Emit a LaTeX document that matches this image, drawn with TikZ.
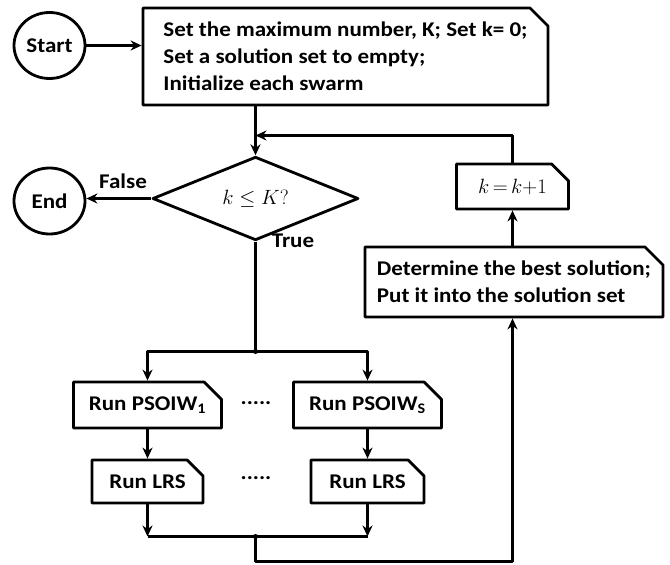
\documentclass[tikz,border=0pt]{standalone}
\usepackage{amsmath}
\usepackage{fontspec}
\setmainfont{Carlito}[FakeStretch=1.1]
\usepackage{tikz}
\usetikzlibrary{arrows.meta}
\usetikzlibrary{shapes.misc}
\usepgflibrary{shapes.geometric}

\tikzset{
  conn/.style={draw},
  txt/.style={font=\bfseries\fontsize{21}{27}\selectfont},
  termnode/.style={draw, ellipse, inner sep=0pt, minimum width=71bp, minimum height=66bp, txt},
  procbox/.style={draw, chamfered rectangle, chamfered rectangle corners=north east,
    chamfered rectangle xsep=9bp, chamfered rectangle ysep=9bp, inner sep=0pt, align=left, txt},
  decision/.style={draw, diamond, inner sep=0pt, minimum width=206bp, minimum height=61bp},
  mathtxt/.style={font=\fontsize{20.74}{26}\selectfont},
}

\begin{document}
\begin{tikzpicture}[x=1bp, y=-1bp, line width=2.8bp, line join=round, >={Stealth[length=11bp, width=10bp]}]
  \useasboundingbox (0,0) rectangle (670,565);
  %--- Start and End
    \node[termnode] (start) at (49.5, 45.5) {Start};
    \node[termnode] (end) at (49.5, 201) {End};
  %--- Initialisation
    \node[procbox, minimum width=405bp, minimum height=97bp] (init) at (345.5, 56.5)
      {Set the maximum number, K; Set k= 0;\\ Set a solution set to empty;\\ Initialize each swarm};
  %--- Test k <= K
    \node[decision, mathtxt] (test) at (255.5, 198.5) {$k \leq K?$};
  %--- k = k+1
    \node[procbox, mathtxt, minimum width=112bp, minimum height=45bp] (incr) at (512.5, 186.5) {$k\,{=}\,k{+}1$};
  %--- Best solution
    \node[procbox, minimum width=298bp, minimum height=70bp] (best) at (514, 282)
      {Determine the best solution;\\ Put it into the solution set};
  %--- Swarms
    \node[procbox, minimum width=148bp, minimum height=46bp] (pso1) at (147.5, 405) {Run PSOIW\textsubscript{1}};
    \node[procbox, minimum width=148bp, minimum height=46bp] (psos) at (367.5, 405) {Run PSOIW\textsubscript{S}};
    \node[procbox, minimum width=111bp, minimum height=43bp] (lrs1) at (147.5, 481.5) {Run LRS};
    \node[procbox, minimum width=113bp, minimum height=43bp] (lrs2) at (367.5, 481.5) {Run LRS};
    \node[txt] (dots1) at (256, 403) {.....};
    \node[txt] (dots2) at (256, 478) {.....};
  %--- Labels
    \node[txt] (false) at (123, 181) {False};
    \node[txt] (true) at (293, 241) {True};
  %--- Coordinates
    \coordinate (loop) at (255.5, 135.5);
    \coordinate (split) at (255.5, 351.5);
    \coordinate (join) at (255.5, 536.5);
    \coordinate (bottom) at (255.5, 561.5);
  % Arrows
    \draw[conn, ->] (start.east) -- (start.east -| init.west);
    \draw[conn] (init.south -| test.north) -- (loop);
    \draw[conn, ->] (loop) -- (test.north);
    \draw[conn, ->] (incr.north) |- (loop);
    \draw[conn, ->] (test.west) -- (test.west -| end.east);
    \draw[conn] (test.south) -- (split);
    \draw[conn, ->] (split) -| (pso1.north);
    \draw[conn, ->] (split) -| (psos.north);
    \draw[conn, ->] (pso1.south) -- (lrs1.north);
    \draw[conn, ->] (psos.south) -- (lrs2.north);
    \draw[conn, ->] (lrs1.south) -- (lrs1.south |- join);
    \draw[conn, ->] (lrs2.south) -- (lrs2.south |- join);
    \draw[conn] (lrs1.south |- join) -- (lrs2.south |- join);
    \draw[conn, ->] (join) -- (bottom) -| (best.south -| incr.south);
    \draw[conn, ->] (best.north -| incr.south) -- (incr.south);
    \fill (split) circle (2.5bp);
    \fill (join) circle (2.5bp);
\end{tikzpicture}
\end{document}
